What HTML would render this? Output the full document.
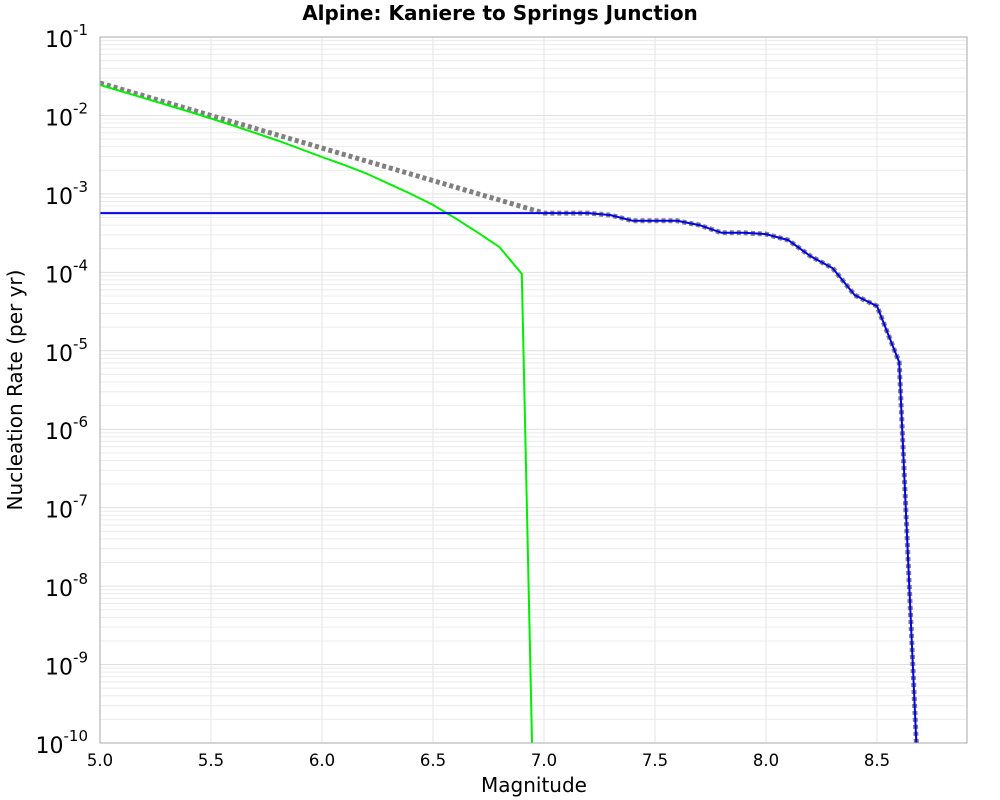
<!DOCTYPE html>
<html><head><meta charset="utf-8"><style>
html,body{margin:0;padding:0;background:#fff;overflow:hidden;font-family:"Liberation Sans","DejaVu Sans",sans-serif;}
svg{display:block;}
svg text{font-family:"DejaVu Sans","Liberation Sans",sans-serif;}
</style></head><body>
<svg id="chart" width="1000" height="800" xmlns="http://www.w3.org/2000/svg">
<text x="500" y="20" text-anchor="middle" font-size="20" font-weight="bold">Alpine: Kaniere to Springs Junction</text>
<text x="534" y="792" text-anchor="middle" font-size="20">Magnitude</text>
<text transform="translate(22,390) rotate(-90)" text-anchor="middle" font-size="20">Nucleation Rate (per yr)</text>
<g id="grid"></g><g id="series"></g><g id="ticks"></g>
<rect x="100" y="37" width="867" height="706" fill="none" stroke="#aaa"/>
</svg>
<script>
const xTicks=[5.0,5.5,6.0,6.5,7.0,7.5,8.0,8.5];
const yDecades=[-1,-2,-3,-4,-5,-6,-7,-8,-9,-10];
const grMags=[5.0,7.0,7.1,7.2,7.3,7.4,7.5,7.6,7.7,7.8,7.9,8.0,8.1,8.2,8.3,8.4,8.5,8.6,8.7];
const grLog=[-1.587,-3.245,-3.245,-3.245,-3.27,-3.343,-3.343,-3.343,-3.398,-3.496,-3.496,-3.513,-3.589,-3.793,-3.946,-4.291,-4.431,-5.145,-11.43];
const blueMags=[5.0,7.0,7.1,7.2,7.3,7.4,7.5,7.6,7.7,7.8,7.9,8.0,8.1,8.2,8.3,8.4,8.5,8.6,8.7];
const blueLog=[-3.245,-3.245,-3.245,-3.245,-3.27,-3.343,-3.343,-3.343,-3.398,-3.496,-3.496,-3.513,-3.589,-3.793,-3.946,-4.291,-4.431,-5.145,-11.43];
const greenMags=[5.0,5.2,5.4,5.6,5.8,6.0,6.1,6.2,6.3,6.4,6.5,6.6,6.7,6.8,6.9,7.0];
const greenLog=[-1.61,-1.78,-1.95,-2.13,-2.32,-2.53,-2.63,-2.74,-2.87,-3.0,-3.14,-3.31,-3.49,-3.68,-4.02,-17];
const NS="http://www.w3.org/2000/svg";
const X0=100,X1=967,Y0=37,Y1=743,xmin=5,xmax=8.9055,lmax=-1,lmin=-10;
const sx=m=>X0+(m-xmin)/(xmax-xmin)*(X1-X0);
const sy=l=>Y0+(lmax-l)/(lmax-lmin)*(Y1-Y0);
function mk(tag,attrs,parent){const e=document.createElementNS(NS,tag);for(const k in attrs)e.setAttribute(k,attrs[k]);parent.appendChild(e);return e;}
const grid=document.getElementById('grid'),ticks=document.getElementById('ticks'),series=document.getElementById('series');
for(const d of yDecades){
 if(d>-10){for(let k=2;k<=9;k++){const y=sy(d-1+Math.log10(k));
  const l=mk('line',{x1:X0,x2:X1,y1:y,y2:y,stroke:'#ececec','stroke-width':1},grid);
  
  }}
 const y=sy(d);
 const g=mk('line',{x1:X0,x2:X1,y1:y,y2:y,stroke:'#e0e0e0','stroke-width':1},grid);
 
 
 const t=mk('text',{x:88,y:y+10,'text-anchor':'end','font-size':22},ticks);
 
 
 t.appendChild(document.createTextNode('10'));
 const s=mk('tspan',{dy:-12,'font-size':15},t);s.textContent=String(d);
}
for(const m of xTicks){const x=sx(m);
 const g=mk('line',{x1:x,x2:x,y1:Y0,y2:Y1,stroke:'#e6e6e6','stroke-width':1},grid);
 
 
 const t=mk('text',{x:x,y:766,'text-anchor':'middle','font-size':16.5},ticks);
 
 
 t.textContent=m.toFixed(1);}
function pts(ms,ls){return ms.map((m,i)=>sx(m).toFixed(1)+','+sy(ls[i]).toFixed(1)).join(' ');}
const clip=mk('clipPath',{id:'pc'},document.getElementById('chart'));
mk('rect',{x:X0,y:Y0,width:X1-X0,height:Y1-Y0},clip);
const gr=mk('polyline',{points:pts(grMags,grLog),fill:'none',stroke:'#808080','stroke-width':5,'stroke-dasharray':'4,3','clip-path':'url(#pc)'},series);


const gl=mk('polyline',{points:pts(greenMags,greenLog),fill:'none',stroke:'#00ee00','stroke-width':2,'clip-path':'url(#pc)'},series);


const bl=mk('polyline',{points:pts(blueMags,blueLog),fill:'none',stroke:'#0000ee','stroke-width':2,'clip-path':'url(#pc)'},series);


</script>
</body></html>
